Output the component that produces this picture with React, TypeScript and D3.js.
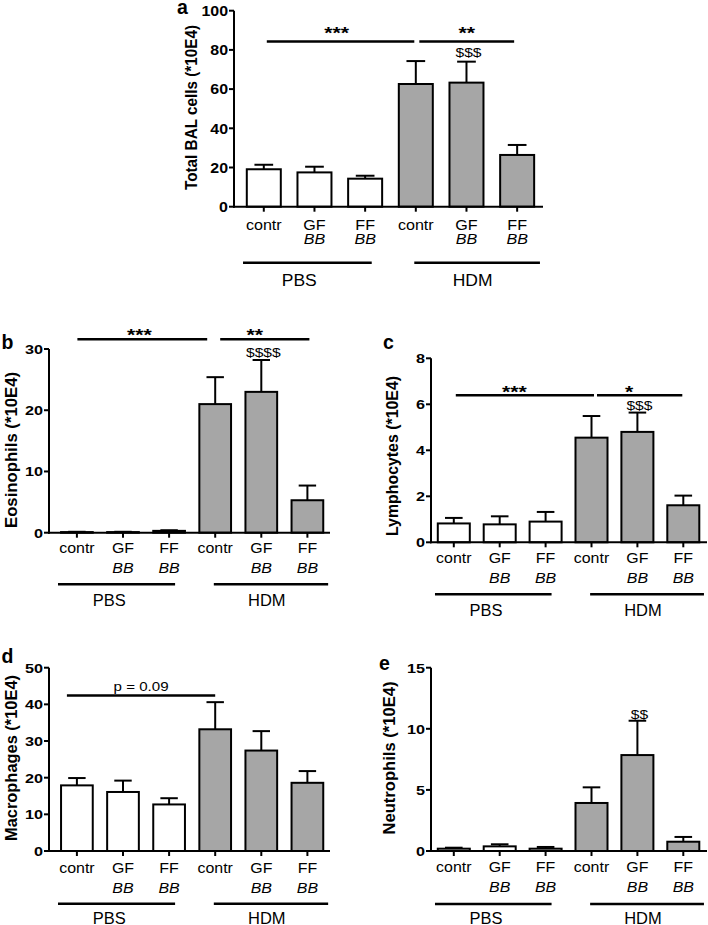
import React from 'react';
import * as d3 from 'd3';

// ---------- data ----------
const CAT_LINE1 = ['contr', 'GF', 'FF', 'contr', 'GF', 'FF'];
const CAT_LINE2 = ['', 'BB', 'BB', '', 'BB', 'BB'];
const GROUPS = ['PBS', 'HDM'];
const GROUP_OF = [0, 0, 0, 1, 1, 1];

const TOTAL_MEAN = [19.1, 17.5, 14.3, 62.6, 63.3, 26.4];
const TOTAL_SEM = [2.3, 2.9, 1.5, 11.7, 10.7, 5.1];
const TOTAL_TICKS = [0, 20, 40, 60, 80, 100];

const EOS_MEAN = [0.1, 0.1, 0.3, 21.0, 23.0, 5.3];
const EOS_SEM = [0.05, 0.05, 0.1, 4.4, 5.2, 2.4];
const EOS_TICKS = [0, 10, 20, 30];

const LYM_MEAN = [0.82, 0.78, 0.9, 4.55, 4.8, 1.61];
const LYM_SEM = [0.24, 0.35, 0.42, 0.94, 0.84, 0.42];
const LYM_TICKS = [0, 2, 4, 6, 8];

const MAC_MEAN = [17.9, 16.1, 12.7, 33.2, 27.4, 18.6];
const MAC_SEM = [2.0, 3.1, 1.7, 7.4, 5.3, 3.2];
const MAC_TICKS = [0, 10, 20, 30, 40, 50];

const NEU_MEAN = [0.19, 0.38, 0.19, 3.93, 7.85, 0.76];
const NEU_SEM = [0.08, 0.17, 0.14, 1.28, 2.81, 0.39];
const NEU_TICKS = [0, 5, 10, 15];

const SIG_A = [
  { from: 0, to: 3, label: '***', value: 84.3 },
  { from: 3, to: 5, label: '**', value: 84.3 },
];
const SIG_B = [
  { from: 0, to: 3, label: '***', value: 31.6 },
  { from: 3, to: 5, label: '**', value: 31.6 },
];
const SIG_C = [
  { from: 0, to: 3, label: '***', value: 6.39 },
  { from: 3, to: 5, label: '*', value: 6.39 },
];
const SIG_D = [{ from: 0, to: 3, label: 'p = 0.09', value: 42.4 }];
const SIG_E: { from: number; to: number; label: string; value: number }[] = [];

const DOLLAR_A = { index: 4, label: '$$$' };
const DOLLAR_B = { index: 4, label: '$$$$' };
const DOLLAR_C = { index: 4, label: '$$$' };
const DOLLAR_E = { index: 4, label: '$$' };

// ---------- layout ----------
const FONT = '"Liberation Sans", Arial, Helvetica, sans-serif';
const GRAY = '#a6a6a6';

const PANELS: any[] = [
  {
    letter: 'a', letterX: 177, letterY: 14,
    mean: TOTAL_MEAN, sem: TOTAL_SEM, ticks: TOTAL_TICKS, max: 100,
    axisX: 234, axisEnd: 543, y0: 206.7, yTop: 10.7,
    step: 50.67, bw: 34, firstC: 263.8,
    yLabel: 'Total BAL cells (*10E4)', yLabelX: 190.5, yLabelY: 107.5, yLabelLen: 165,
    tickSize: 14.5, tickSx: 1.1, catSize: 15.5, catSx: 1.04, row1: 229.5, row2: 244,
    groupLineY: 262.7, groupLabelY: 286, groupSize: 17,
    sig: SIG_A, sigLayout: [{ x1: 3, x2: -1.5, dx: -4 }, { x1: 3.5, x2: -3, dx: 0 }], starBase: -2,
    dollar: DOLLAR_A, dollarOff: 5,
  },
  {
    letter: 'b', letterX: 1.5, letterY: 349,
    mean: EOS_MEAN, sem: EOS_SEM, ticks: EOS_TICKS, max: 30,
    axisX: 49, axisEnd: 330, y0: 532.7, yTop: 349,
    step: 46.1, bw: 31.7, firstC: 76.9,
    yLabel: 'Eosinophils (*10E4)', yLabelX: 11, yLabelY: 450, yLabelLen: 156,
    tickSize: 13.5, tickSx: 1.2, catSize: 14.5, catSx: 1.1, row1: 553.3, row2: 572.7,
    groupLineY: 584.3, groupLabelY: 605.5, groupSize: 16,
    sig: SIG_B, sigLayout: [{ x1: 0.5, x2: -8, dx: -3 }, { x1: 5, x2: 2, dx: -10 }], starBase: 1.8,
    dollar: DOLLAR_B, dollarOff: 3,
  },
  {
    letter: 'c', letterX: 383, letterY: 348.5,
    mean: LYM_MEAN, sem: LYM_SEM, ticks: LYM_TICKS, max: 8,
    axisX: 431, axisEnd: 707, y0: 542.3, yTop: 358.3,
    step: 45.9, bw: 32, firstC: 453.8,
    yLabel: 'Lymphocytes (*10E4)', yLabelX: 392, yLabelY: 456, yLabelLen: 160,
    tickSize: 13.5, tickSx: 1.2, catSize: 14.5, catSx: 1.1, row1: 563.3, row2: 582.7,
    groupLineY: 594.3, groupLabelY: 615.5, groupSize: 16,
    sig: SIG_C, sigLayout: [{ x1: 2, x2: 2.5, dx: -10.5 }, { x1: 5.5, x2: -1, dx: -10.5 }], starBase: 2.3,
    dollar: DOLLAR_C, dollarOff: 2.5,
  },
  {
    letter: 'd', letterX: 1.5, letterY: 663,
    mean: MAC_MEAN, sem: MAC_SEM, ticks: MAC_TICKS, max: 50,
    axisX: 49, axisEnd: 330, y0: 851, yTop: 667.7,
    step: 46.1, bw: 31.7, firstC: 76.9,
    yLabel: 'Macrophages (*10E4)', yLabelX: 11, yLabelY: 758, yLabelLen: 166,
    tickSize: 13.5, tickSx: 1.2, catSize: 14.5, catSx: 1.1, row1: 873, row2: 892.5,
    groupLineY: 903.7, groupLabelY: 923.5, groupSize: 16,
    sig: SIG_D, sigLayout: [{ x1: -10, x2: 0, dx: 0 }], starBase: -4.7,
    dollar: null, dollarOff: 3,
  },
  {
    letter: 'e', letterX: 379, letterY: 670,
    mean: NEU_MEAN, sem: NEU_SEM, ticks: NEU_TICKS, max: 15,
    axisX: 431, axisEnd: 707, y0: 851, yTop: 667.7,
    step: 45.9, bw: 32, firstC: 453.8,
    yLabel: 'Neutrophils (*10E4)', yLabelX: 389, yLabelY: 758, yLabelLen: 153,
    tickSize: 13.5, tickSx: 1.2, catSize: 14.5, catSx: 1.1, row1: 872, row2: 891.5,
    groupLineY: 904, groupLabelY: 923.5, groupSize: 16,
    sig: SIG_E, sigLayout: [], starBase: 0,
    dollar: DOLLAR_E, dollarOff: 2,
  },
];

function T({ x, y, sx = 1, anchor = 'middle', size, weight = 'normal', italic = false, children }: any) {
  return (
    <text
      transform={`translate(${x},${y}) scale(${sx},1)`}
      textAnchor={anchor}
      fontSize={size}
      fontWeight={weight}
      fontStyle={italic ? 'italic' : 'normal'}
      fill="#000"
    >
      {children}
    </text>
  );
}

function Panel({ cfg }: { cfg: any }) {
  const n = cfg.mean.length;
  const p = 1 - cfg.bw / cfg.step;
  const o = (cfg.firstC - cfg.axisX - cfg.bw / 2) / cfg.step;
  const idx = d3.range(n).map(String);
  const x = d3
    .scaleBand<string>()
    .domain(idx)
    .range([cfg.axisX, cfg.axisX + cfg.step * (n - p + 2 * o)])
    .paddingInner(p)
    .paddingOuter(o);
  const y = d3.scaleLinear().domain([0, cfg.max]).range([cfg.y0, cfg.yTop]);
  const bw = x.bandwidth();
  const cx = (i: number) => (x(String(i)) as number) + bw / 2;
  const step = x.step();
  const capW = bw * 0.55;
  const sw = 2;

  const groupRanges = GROUPS.map((g, gi) => {
    const members = GROUP_OF.map((v, i) => (v === gi ? i : -1)).filter((i) => i >= 0);
    const first = members[0];
    const last = members[members.length - 1];
    const mid = members[Math.floor(members.length / 2)];
    if (gi === 0) {
      return { label: g, x1: cx(first) - 0.41 * step, x2: cx(last) + 0.13 * step, tx: cx(mid) - 0.3 * step };
    }
    return { label: g, x1: cx(first) - 0.03 * step, x2: cx(last) + 0.45 * step, tx: cx(mid) + 0.12 * step };
  });

  return (
    <g>
      {cfg.mean.map((m: number, i: number) => (
        <rect
          key={'b' + i}
          x={x(String(i))}
          y={y(m)}
          width={bw}
          height={cfg.y0 - y(m)}
          fill={GROUP_OF[i] === 0 ? '#ffffff' : GRAY}
          stroke="#000"
          strokeWidth={sw}
        />
      ))}
      {cfg.mean.map((m: number, i: number) => (
        <g key={'e' + i} stroke="#000" strokeWidth={sw}>
          <line x1={cx(i)} x2={cx(i)} y1={y(m)} y2={y(m + cfg.sem[i])} />
          <line x1={cx(i) - capW / 2} x2={cx(i) + capW / 2} y1={y(m + cfg.sem[i])} y2={y(m + cfg.sem[i])} />
        </g>
      ))}
      <line x1={cfg.axisX} x2={cfg.axisX} y1={cfg.y0 + 1} y2={y(cfg.max)} stroke="#000" strokeWidth={sw} />
      {cfg.ticks.map((t: number) => (
        <g key={'t' + t}>
          <line x1={cfg.axisX - 5} x2={cfg.axisX} y1={y(t)} y2={y(t)} stroke="#000" strokeWidth={sw} />
          <T x={cfg.axisX - 6} y={y(t) + cfg.tickSize * 0.36} sx={cfg.tickSx} anchor="end" size={cfg.tickSize} weight="bold">
            {t}
          </T>
        </g>
      ))}
      <line x1={cfg.axisX - 1} x2={cfg.axisEnd} y1={cfg.y0} y2={cfg.y0} stroke="#000" strokeWidth={sw} />
      {cfg.mean.map((_: number, i: number) => (
        <line key={'xt' + i} x1={cx(i)} x2={cx(i)} y1={cfg.y0} y2={cfg.y0 + 5} stroke="#000" strokeWidth={sw} />
      ))}
      {CAT_LINE1.map((c, i) => (
        <T key={'c1' + i} x={cx(i)} y={cfg.row1} sx={cfg.catSx} size={cfg.catSize}>
          {c}
        </T>
      ))}
      {CAT_LINE2.map((c, i) =>
        c ? (
          <T key={'c2' + i} x={cx(i)} y={cfg.row2} sx={cfg.catSx} size={cfg.catSize} italic>
            {c}
          </T>
        ) : null
      )}
      {groupRanges.map((g) => (
        <g key={g.label}>
          <line x1={g.x1} x2={g.x2} y1={cfg.groupLineY} y2={cfg.groupLineY} stroke="#000" strokeWidth={2.5} />
          <T x={g.tx} y={cfg.groupLabelY} size={cfg.groupSize} sx={1.03}>
            {g.label}
          </T>
        </g>
      ))}
      {cfg.sig.map((s: any, k: number) => {
        const L = cfg.sigLayout[k];
        const x1 = cx(s.from) + L.x1;
        const x2 = cx(s.to) + L.x2;
        const ly = y(s.value);
        const isP = s.label.startsWith('p');
        return (
          <g key={'s' + k}>
            <line x1={x1} x2={x2} y1={ly} y2={ly} stroke="#000" strokeWidth={2.5} />
            {isP ? (
              <T x={(x1 + x2) / 2 + L.dx} y={ly + cfg.starBase} size={13.5} sx={1.12}>
                {s.label}
              </T>
            ) : (
              <T x={(x1 + x2) / 2 + L.dx} y={ly + cfg.starBase} size={17} sx={1.25} weight="bold">
                {s.label}
              </T>
            )}
          </g>
        );
      })}
      {cfg.dollar && (
        <T
          x={cx(cfg.dollar.index) + 2}
          y={y(cfg.mean[cfg.dollar.index] + cfg.sem[cfg.dollar.index]) - cfg.dollarOff}
          size={13}
          sx={1.2}
        >
          {cfg.dollar.label}
        </T>
      )}
      <text
        transform={`translate(${cfg.yLabelX},${cfg.yLabelY}) rotate(-90)`}
        textAnchor="middle"
        dominantBaseline="central"
        fontSize={16.5}
        fontWeight="bold"
        textLength={cfg.yLabelLen}
        lengthAdjust="spacingAndGlyphs"
      >
        {cfg.yLabel}
      </text>
      <text x={cfg.letterX} y={cfg.letterY} fontSize={19.5} fontWeight="bold">
        {cfg.letter}
      </text>
    </g>
  );
}

export default function App() {
  return (
    <svg
      width={708}
      height={925}
      style={{ position: 'absolute', left: 0, top: 0, background: '#fff' }}
      fontFamily={FONT}
    >
      <rect x={0} y={0} width={708} height={925} fill="#fff" />
      {PANELS.map((cfg) => (
        <Panel key={cfg.letter} cfg={cfg} />
      ))}
    </svg>
  );
}
